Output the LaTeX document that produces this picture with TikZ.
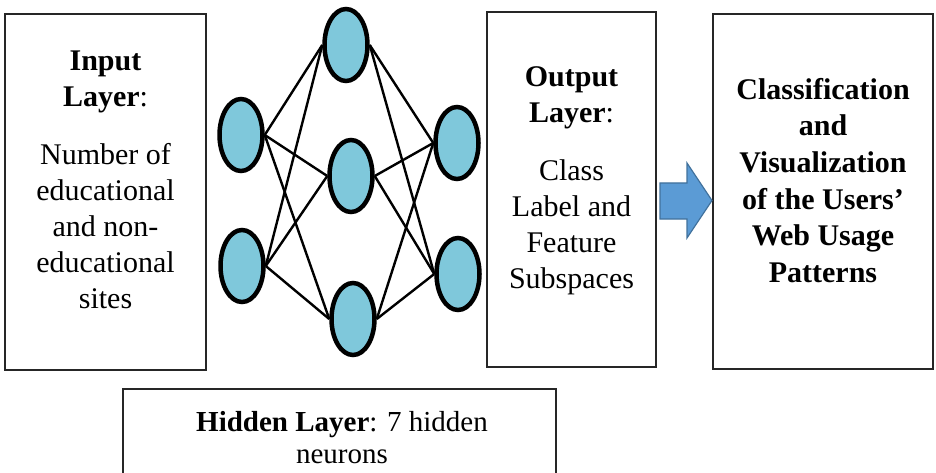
\documentclass[tikz,border=0pt]{standalone}
\usepackage{fontspec}
\setmainfont{Liberation Serif}
\usetikzlibrary{shapes.geometric,positioning}
\definecolor{neuronblue}{RGB}{127,200,219}
\definecolor{arrowblue}{RGB}{91,155,213}
\definecolor{arrowedge}{RGB}{65,113,156}

\tikzset{
    layerbox/.style={draw=black!85, line width=2.5pt, rectangle, inner sep=0pt},
    boxtext/.style={align=center, inner sep=0pt, anchor=north, font=\fontsize{30}{36}\selectfont},
    neuron/.style={draw, ellipse, line width=4.5pt, fill=neuronblue, minimum width=43pt, minimum height=72pt, inner sep=0pt},
    link/.style={line width=2.4pt},
    blockarrow/.style={fill=arrowblue, draw=arrowedge, line width=1.2pt, line join=miter}
}

\begin{document}
\begin{tikzpicture}[x=1pt, y=-1pt]
    \useasboundingbox (0,0) rectangle (936,473);

    % Layer boxes
    \node[layerbox, minimum width=201pt, minimum height=356pt] (inbox) at (105.5,192) {};
    \node[layerbox, minimum width=169pt, minimum height=355pt] (outbox) at (571.5,189.5) {};
    \node[layerbox, minimum width=220pt, minimum height=355pt] (resbox) at (823,191.5) {};
    \node[layerbox, minimum width=433pt, minimum height=120pt] (hidbox) at (339.5,449) {};

    % Box texts
    \node[boxtext] (intext) at (105.5,51) {\textbf{Input}\\\textbf{Layer}:\\[22pt]Number of\\educational\\and non-\\educational\\sites};
    \node[boxtext] (outtext) at (571.5,66) {\textbf{Output}\\\textbf{Layer}:\\[22pt]Class\\Label and\\Feature\\Subspaces};
    \node[boxtext, font=\bfseries\fontsize{30}{36.6}\selectfont] (restext) at (823,78) {Classification\\and\\Visualization\\of the Users’\\Web Usage\\Patterns};
    \node[boxtext, font=\fontsize{29}{32}\selectfont] (hidtext) at (342,411) {\textbf{Hidden Layer}: 7 hidden\\neurons};

    % Neurons
    \node[neuron] (i1) at (241,135) {};
    \node[neuron] (i2) at (242,266) {};
    \node[neuron] (h1) at (346,45) {};
    \node[neuron] (h2) at (351,176) {};
    \node[neuron] (h3) at (353,319) {};
    \node[neuron] (o1) at (457,143) {};
    \node[neuron] (o2) at (458,274) {};

    % Connections
    \draw[link] (i1.east) -- (h1.west);
    \draw[link] (i1.east) -- (h2.west);
    \draw[link] (i1.east) -- (h3.west);
    \draw[link] (i2.east) -- (h1.west);
    \draw[link] (i2.east) -- (h2.west);
    \draw[link] (i2.east) -- (h3.west);
    \draw[link] (h1.east) -- (o1.west);
    \draw[link] (h1.east) -- (o2.west);
    \draw[link] (h2.east) -- (o1.west);
    \draw[link] (h2.east) -- (o2.west);
    \draw[link] (h3.east) -- (o1.west);
    \draw[link] (h3.east) -- (o2.west);

    % Block arrow
    \filldraw[blockarrow] (660,183) -- (687,183) -- (687,163) -- (712,200.5) -- (687,238) -- (687,219) -- (660,219) -- cycle;
\end{tikzpicture}
\end{document}
